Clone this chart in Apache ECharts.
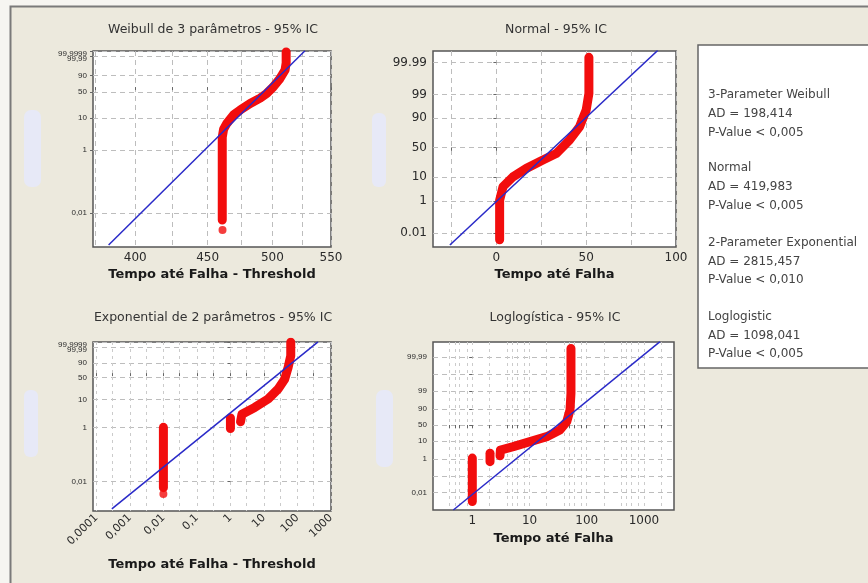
<!DOCTYPE html>
<html>
<head>
<meta charset="utf-8">
<script src="https://cdn.jsdelivr.net/npm/echarts@6/dist/echarts.min.js"></script>
<style>
  html, body { margin: 0; padding: 0; background: #f6f5f1; }
  #main { width: 868px; height: 583px; }
</style>
</head>
<body>
<div id="main"></div>
<script>
// ---- data (time, percent) ----
// Weibull de 3 parametros
var wbTime = [460.8, 460.8, 461.8, 464.3, 469.3, 474.4, 482.2, 490.1, 495.5, 500.8, 506.3, 510.4, 511.3, 511.3];
var wbPct  = [0.006, 2.5, 4.5, 6.8, 12.2, 17, 26, 36, 47, 64, 85, 97, 99.7, 99.9998];
var wbDotTime = [461];
var wbDotPct  = [0.0029];
var wbFitTime = [383, 527.2];
var wbFitPct  = [0.00096, 99.99994];

// Normal
var nmTime = [1.8, 1.8, 3.7, 9.2, 16.7, 25.9, 33.3, 40.7, 46.3, 50, 51.5, 51.5];
var nmPct  = [0.003, 1.1, 4.5, 10.2, 18.4, 29.5, 40, 63, 82, 95, 99.1, 99.996];
var nmFitTime = [-25.9, 89.8];
var nmFitPct  = [0.0011, 99.9989];

// Exponential de 2 parametros
var exColTime = [0.01, 0.01];
var exColPct  = [0.006, 1.0];
var exDotTime = [0.01];
var exDotPct  = [0.0035];
var exBlobTime = [1, 1];
var exBlobPct  = [0.9, 2.2];
var exTime = [2.0, 2.2, 5.3, 13.3, 26.5, 41.5, 52.5, 63, 63];
var exPct  = [1.6, 3.0, 5.3, 10.5, 22.8, 45, 80, 98.7, 99.9999];
var exFitTime = [0.00029, 410];
var exFitPct  = [0.001, 99.99993];

// Loglogistica
var llColTime = [1, 1];
var llColPct  = [0.003, 1.1];
var llBlobTime = [2.04, 2.04];
var llBlobPct  = [0.68, 2.1];
var llTime = [3.05, 3.1, 5.2, 10.2, 20, 34, 44.7, 51, 53, 53];
var llPct  = [1.5, 3.2, 5, 9.4, 17, 33.6, 61, 88.5, 98.7, 99.997];
var llFitTime = [0.466, 1907];
var llFitPct  = [0.00095, 99.9988];

// tick labels
var wbYGrid = [0.01, 1, 10, 50, 90, 99.99, 99.9999];
var wbYTicks = [0.01, 1, 10, 50, 90, 99.99];
var wbYLabels = ['0,01', '1', '10', '50', '90', '{b|99,9999}\n{a|99,99}'];
var wbXGrid = [375, 400, 425, 450, 475, 500, 525, 550];
var wbXTicks = [400, 450, 500, 550];
var nmYTicks = [0.01, 1, 10, 50, 90, 99, 99.99];
var nmYLabels = ['0.01', '1', '10', '50', '90', '99', '99.99'];
var nmXGrid = [-25, 0, 25, 50, 75, 100];
var nmXTicks = [0, 50, 100];
var exXTicks = [0.0001, 0.001, 0.01, 0.1, 1, 10, 100, 1000];
var exXLabels = ['0,0001', '0,001', '0,01', '0,1', '1', '10', '100', '1000'];
var exSteps = [1, 3];
var llYGrid = [0.01, 0.1, 1, 10, 50, 90, 99, 99.9, 99.99];
var llYTicks = [0.01, 1, 10, 50, 90, 99, 99.99];
var llYLabels = ['0,01', '1', '10', '50', '90', '99', '99,99'];
var llXTicks = [1, 10, 100, 1000];
var llSteps = [1, 2, 4, 5, 6, 8];

var legendLines = [
  '3-Parameter Weibull', 'AD = 198,414', 'P-Value < 0,005',
  'Normal', 'AD = 419,983', 'P-Value < 0,005',
  '2-Parameter Exponential', 'AD = 2815,457', 'P-Value < 0,010',
  'Loglogistic', 'AD = 1098,041', 'P-Value < 0,005'
];

// ---- probability scales ----
function probit(p) {
  var a = [-3.969683028665376e+01, 2.209460984245205e+02, -2.759285104469687e+02, 1.383577518672690e+02, -3.066479806614716e+01, 2.506628277459239e+00];
  var b = [-5.447609879822406e+01, 1.615858368580409e+02, -1.556989798598866e+02, 6.680131188771972e+01, -1.328068155288572e+01];
  var c = [-7.784894002430293e-03, -3.223964580411365e-01, -2.400758277161838e+00, -2.549732539343734e+00, 4.374664141464968e+00, 2.938163982698783e+00];
  var d = [7.784695709041462e-03, 3.224671290700398e-01, 2.445134137142996e+00, 3.754408661907416e+00];
  var q, r;
  if (p < 0.02425) {
    q = Math.sqrt(-2 * Math.log(p));
    return (((((c[0]*q+c[1])*q+c[2])*q+c[3])*q+c[4])*q+c[5]) / ((((d[0]*q+d[1])*q+d[2])*q+d[3])*q+1);
  }
  if (p > 1 - 0.02425) {
    q = Math.sqrt(-2 * Math.log(1 - p));
    return -(((((c[0]*q+c[1])*q+c[2])*q+c[3])*q+c[4])*q+c[5]) / ((((d[0]*q+d[1])*q+d[2])*q+d[3])*q+1);
  }
  q = p - 0.5; r = q * q;
  return (((((a[0]*r+a[1])*r+a[2])*r+a[3])*r+a[4])*r+a[5])*q / (((((b[0]*r+b[1])*r+b[2])*r+b[3])*r+b[4])*r+1);
}
var tWb = function (p) { return Math.log(-Math.log(1 - p / 100)); };
var tNm = function (p) { return probit(p / 100); };
var tLl = function (p) { var q = p / 100; return Math.log(q / (1 - q)); };
var tLn = function (x) { return Math.log(x); };
var tLog = function (x) { return Math.log(x) / Math.LN10; };
var tLin = function (x) { return x; };

function pairs(xs, ys, tx, ty) {
  return xs.map(function (x, i) { return [tx(x), ty(ys[i])]; });
}
function labeler(vals, texts) {
  return function (v) {
    var best = 0;
    for (var i = 1; i < vals.length; i++) {
      if (Math.abs(vals[i] - v) < Math.abs(vals[best] - v)) best = i;
    }
    return texts[best];
  };
}
// log gridlines: decade * each step
function logGrid(decades, steps) {
  var out = [];
  decades.forEach(function (d) { steps.forEach(function (s) { out.push(d * s); }); });
  return out;
}

var FONT = 'DejaVu Sans';
var gridStyle = { show: true, lineStyle: { color: '#bdbdbd', width: 1, type: [5, 4] } };
var logGridStyle = { show: true, lineStyle: { color: '#cbcbcb', width: 1, type: [3, 4] } };

function xAxis(idx, tr, min, max, gridVals, tickVals, texts, opt) {
  var lv = tickVals.map(tr);
  opt = opt || {};
  return {
    type: 'value', gridIndex: idx, min: tr(min), max: tr(max),
    axisLine: { show: false },
    axisTick: { show: true, customValues: gridVals.map(tr), length: 3, lineStyle: { color: '#666' } },
    minorTick: { show: false },
    axisLabel: {
      customValues: lv, formatter: labeler(lv, texts), color: '#2a2a2a',
      fontFamily: FONT, fontSize: opt.fontSize || 12, margin: opt.margin || 5, rotate: opt.rotate || 0
    },
    splitLine: opt.logGrid ? logGridStyle : gridStyle,
    name: opt.name, nameLocation: 'middle', nameGap: opt.nameGap,
    nameTextStyle: { fontFamily: FONT, fontWeight: 'bold', fontSize: 13, color: '#1a1a1a' }
  };
}
function yAxis(idx, tr, min, max, gridVals, tickVals, texts, fs) {
  var lv = tickVals.map(tr);
  return {
    type: 'value', gridIndex: idx, min: min, max: max,
    axisLine: { show: false },
    axisTick: { show: true, customValues: gridVals.map(tr), length: 3, lineStyle: { color: '#666' } },
    axisLabel: {
      customValues: lv, formatter: labeler(lv, texts), color: '#2a2a2a',
      fontFamily: fs > 9 ? FONT : 'Liberation Sans', fontSize: fs, margin: 6, hideOverlap: false,
      rich: {
        a: { fontFamily: 'Liberation Sans', fontSize: fs, lineHeight: 5, color: '#2a2a2a', align: 'right' },
        b: { fontFamily: 'Liberation Sans', fontSize: fs, lineHeight: 5, color: '#2a2a2a', align: 'right' }
      }
    },
    splitLine: gridStyle
  };
}

var RED = '#f20d0d', BLUE = '#2a2ac8';
function band(idx, data) {
  return {
    type: 'line', xAxisIndex: idx, yAxisIndex: idx, data: data, showSymbol: false, silent: true,
    lineStyle: { color: RED, width: 9, cap: 'round', join: 'round' }, z: 3
  };
}
function dots(idx, data) {
  return {
    type: 'scatter', xAxisIndex: idx, yAxisIndex: idx, data: data, symbolSize: 8,
    itemStyle: { color: RED }, silent: true, z: 3
  };
}
function fit(idx, data) {
  return {
    type: 'line', xAxisIndex: idx, yAxisIndex: idx, data: data, showSymbol: false, silent: true,
    lineStyle: { color: BLUE, width: 1.5 }, z: 4
  };
}

var grids = [
  { left: 93, top: 51, width: 238, height: 196 },
  { left: 433, top: 51, width: 243, height: 196 },
  { left: 93, top: 342, width: 238, height: 169 },
  { left: 433, top: 342, width: 241, height: 168 }
].map(function (g) {
  g.show = true; g.backgroundColor = '#fff'; g.borderColor = '#555'; g.borderWidth = 1.5;
  g.containLabel = false; g.outerBoundsMode = 'none';
  return g;
});

var graphics = [
  { type: 'rect', shape: { x: 0, y: 0, width: 868, height: 6 }, style: { fill: '#f6f5f1' }, z: -5 },
  { type: 'rect', shape: { x: 0, y: 0, width: 10, height: 583 }, style: { fill: '#f6f5f1' }, z: -5 },
  { type: 'polyline', shape: { points: [[10.5, 583], [10.5, 6.5], [868, 6.5]] }, style: { stroke: '#7a7a7a', lineWidth: 2, fill: null } },
  { type: 'rect', shape: { x: 24, y: 110, width: 17, height: 77, r: 7 }, style: { fill: '#e7e9f7' } },
  { type: 'rect', shape: { x: 372, y: 113, width: 14, height: 74, r: 6 }, style: { fill: '#e7e9f7' } },
  { type: 'rect', shape: { x: 24, y: 390, width: 14, height: 67, r: 6 }, style: { fill: '#e7e9f7' } },
  { type: 'rect', shape: { x: 376, y: 390, width: 17, height: 77, r: 7 }, style: { fill: '#e7e9f7' } },
  { type: 'rect', shape: { x: 698, y: 45, width: 200, height: 323 }, style: { fill: '#fff', stroke: '#666', lineWidth: 1.5 } }
];
var titles = [
  ['Weibull de 3 parâmetros - 95% IC', 213, 30],
  ['Normal - 95% IC', 556, 30],
  ['Exponential de 2 parâmetros - 95% IC', 213, 318],
  ['Loglogística - 95% IC', 555, 318]
];
titles.forEach(function (t) {
  graphics.push({ type: 'text', x: t[1], y: t[2], style: {
    text: t[0], align: 'center', verticalAlign: 'middle', fill: '#333', font: '12.5px "' + FONT + '"' } });
});
var legendY = [95, 114, 133, 168, 187, 206, 243, 262, 280, 317, 336, 354];
legendLines.forEach(function (s, i) {
  graphics.push({ type: 'text', x: 708, y: legendY[i], style: {
    text: s, align: 'left', verticalAlign: 'middle', fill: '#444', font: '12px "' + FONT + '"' } });
});

var option = {
  backgroundColor: '#ece9dd',
  animation: false,
  grid: grids,
  xAxis: [
    xAxis(0, tLn, 373.4, 550, wbXGrid, wbXTicks, wbXTicks.map(String), { name: 'Tempo até Falha - Threshold', nameGap: 21 }),
    xAxis(1, tLin, -35.3, 100, nmXGrid, nmXTicks, nmXTicks.map(String), { name: 'Tempo até Falha', nameGap: 21 }),
    xAxis(2, tLog, 0.0000794, 1000, logGrid([0.0001, 0.001, 0.01, 0.1, 1, 10, 100, 1000], exSteps), exXTicks, exXLabels,
      { name: 'Tempo até Falha - Threshold', nameGap: 47, rotate: 45, fontSize: 11, margin: 5, logGrid: true }),
    xAxis(3, tLog, 0.2056, 3350, logGrid([0.1, 1, 10, 100, 1000], llSteps), llXTicks, llXTicks.map(String),
      { name: 'Tempo até Falha', nameGap: 22, logGrid: true })
  ],
  yAxis: [
    yAxis(0, tWb, -11.7, 2.64, wbYGrid, wbYTicks, wbYLabels, 8),
    yAxis(1, tNm, -4.33, 4.22, nmYTicks, nmYTicks, nmYLabels, 12),
    yAxis(2, tWb, -11.7, 2.64, wbYGrid, wbYTicks, wbYLabels, 8),
    yAxis(3, tLl, -11.56, 11.29, llYGrid, llYTicks, llYLabels, 8)
  ],
  graphic: { elements: graphics },
  series: [
    band(0, pairs(wbTime, wbPct, tLn, tWb)),
    dots(0, pairs(wbDotTime, wbDotPct, tLn, tWb)),
    fit(0, pairs(wbFitTime, wbFitPct, tLn, tWb)),

    band(1, pairs(nmTime, nmPct, tLin, tNm)),
    fit(1, pairs(nmFitTime, nmFitPct, tLin, tNm)),

    band(2, pairs(exColTime, exColPct, tLog, tWb)),
    dots(2, pairs(exDotTime, exDotPct, tLog, tWb)),
    band(2, pairs(exBlobTime, exBlobPct, tLog, tWb)),
    band(2, pairs(exTime, exPct, tLog, tWb)),
    fit(2, pairs(exFitTime, exFitPct, tLog, tWb)),

    band(3, pairs(llColTime, llColPct, tLog, tLl)),
    band(3, pairs(llBlobTime, llBlobPct, tLog, tLl)),
    band(3, pairs(llTime, llPct, tLog, tLl)),
    fit(3, pairs(llFitTime, llFitPct, tLog, tLl))
  ]
};

var chart = echarts.init(document.getElementById('main'), null, { renderer: 'canvas' });
chart.setOption(option);
</script>
</body>
</html>
